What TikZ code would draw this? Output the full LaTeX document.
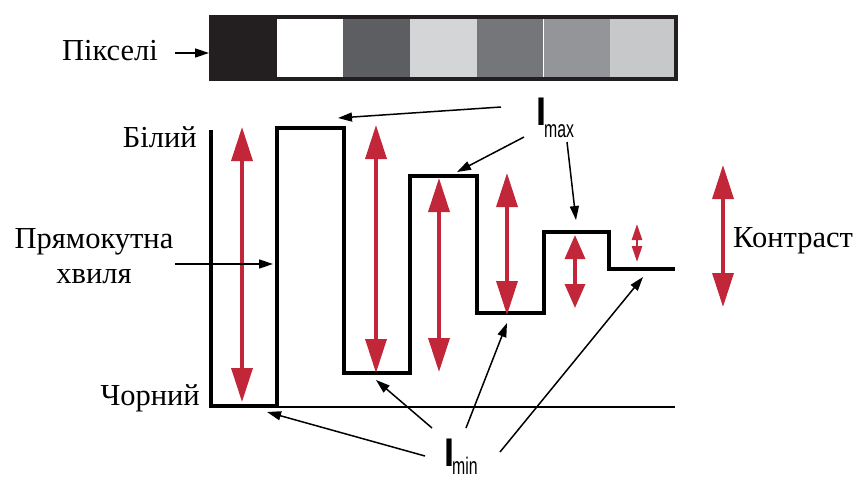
\documentclass[tikz,border=0pt]{standalone}
\usepackage{fontspec}
\setmainfont{LiberationSerif}[Extension=.ttf, UprightFont=*-Regular,
  BoldFont=*-Bold, ItalicFont=*-Italic, BoldItalicFont=*-BoldItalic]
\newfontfamily\labelserif{LiberationSerif}[Extension=.ttf, UprightFont=*-Regular]
\newfontfamily\subsans[FakeStretch=0.66]{Liberation Sans}
\newfontfamily\bigsans[FakeStretch=0.9]{Liberation Sans}
\usetikzlibrary{arrows.meta}
\definecolor{crimson}{RGB}{194,39,57}
\definecolor{pxblack}{RGB}{35,31,32}
\definecolor{pxgreyA}{RGB}{93,94,98}
\definecolor{pxgreyB}{RGB}{212,213,215}
\definecolor{pxgreyC}{RGB}{117,118,122}
\definecolor{pxgreyD}{RGB}{147,149,152}
\definecolor{pxgreyE}{RGB}{199,200,202}
\begin{document}
\begin{tikzpicture}[x=1pt,y=-1pt,
  lbl/.style={font=\labelserif\fontsize{30.5}{35}\selectfont, inner sep=0pt},
  bigI/.style={font=\bigsans\bfseries\fontsize{40}{40}\selectfont, inner sep=0pt},
  subI/.style={font=\subsans\fontsize{24}{24}\selectfont, inner sep=0pt},
  wave/.style={line width=3.5pt, line join=miter},
  contrast/.style={draw=crimson, line width=3.5pt,
    {Triangle[length=34pt,width=21pt]}-{Triangle[length=34pt,width=21pt]}},
  pointer/.style={draw=black, line width=1.5pt,
    -{Triangle[length=14pt,width=9pt]}},
]
\path[use as bounding box] (0,0) rectangle (856,479);

% pixel strip
\fill[pxblack] (211,17) rectangle (277,79);
\fill[white]   (277,17) rectangle (343,79);
\fill[pxgreyA] (343,17) rectangle (410,79);
\fill[pxgreyB] (410,17) rectangle (477,79);
\fill[pxgreyC] (477,17) rectangle (543,79);
\fill[pxgreyD] (543,17) rectangle (610,79);
\fill[pxgreyE] (610,17) rectangle (676,79);
\draw[white, line width=1pt] (543.5,17) -- (543.5,79);
\node[draw=pxblack, line width=4pt, minimum width=465pt, minimum height=62pt,
      inner sep=0pt, anchor=north west] (bar) at (209,15) {};

% labels
\node[lbl, anchor=base east] (pix) at (158,60) {Пікселі};
\node[lbl, anchor=base east] (white) at (197,147) {Білий};
\node[lbl, anchor=base east] (black) at (200,405) {Чорний};
\node[lbl, anchor=base west] (contr) at (733,247) {Контраст};
\node[lbl, align=center] (wavelbl) at (94,256) {Прямокутна\\хвиля};

\node[bigI, anchor=base west] (imaxI) at (536,125) {I};
\node[subI, anchor=base west] (imaxS) at (544,137) {max};
\node[bigI, anchor=base west] (iminI) at (444,466) {I};
\node[subI, anchor=base west] (iminS) at (452,474) {min};

% square wave and black reference line
\draw[wave] (211,130) -- (211,406) -- (277,406) -- (277,128) -- (344,128)
  -- (344,373) -- (410,373) -- (410,176) -- (477,176) -- (477,313)
  -- (544,313) -- (544,232) -- (609,232) -- (609,269) -- (675,269);
\draw[line width=1.2pt] (277,407) -- (675,407);

% contrast arrows
\draw[contrast] (242,127) -- (242,402);
\draw[contrast] (376,125) -- (376,373);
\draw[contrast] (439,178) -- (439,372);
\draw[contrast] (507,173) -- (507,315);
\draw[draw=crimson, line width=3.5pt,
  {Triangle[length=24pt,width=20pt]}-{Triangle[length=24pt,width=20pt]}]
  (575,235) -- (575,308);
\draw[draw=crimson, line width=2.5pt,
  {Triangle[length=16pt,width=10pt]}-{Triangle[length=16pt,width=10pt]}]
  (637,224) -- (637,262);
\draw[contrast] (723,165) -- (723,307);

% pointer ends
\coordinate (pixS) at (175,53);
\coordinate (waveS) at (175,264);
\coordinate (waveT) at (273,264);
\coordinate (maxS1) at (501,107);
\coordinate (maxT1) at (338,118);
\coordinate (maxS2) at (524,137);
\coordinate (maxT2) at (457,172);
\coordinate (maxS3) at (567,142);
\coordinate (maxT3) at (576,220);
\coordinate (minS1) at (425,456);
\coordinate (minT1) at (267,412);
\coordinate (minS2) at (432,428);
\coordinate (minT2) at (376,380);
\coordinate (minS3) at (466,428);
\coordinate (minT3) at (507,323);
\coordinate (minS4) at (500,452);
\coordinate (minT4) at (643,277);

% pointers
\draw[pointer] (pixS) -- (bar.west |- pixS);
\draw[pointer] (waveS) -- (waveT);
\draw[pointer] (maxS1) -- (maxT1);
\draw[pointer] (maxS2) -- (maxT2);
\draw[pointer] (maxS3) -- (maxT3);
\draw[pointer] (minS1) -- (minT1);
\draw[pointer] (minS2) -- (minT2);
\draw[pointer] (minS3) -- (minT3);
\draw[pointer] (minS4) -- (minT4);
\end{tikzpicture}
\end{document}
